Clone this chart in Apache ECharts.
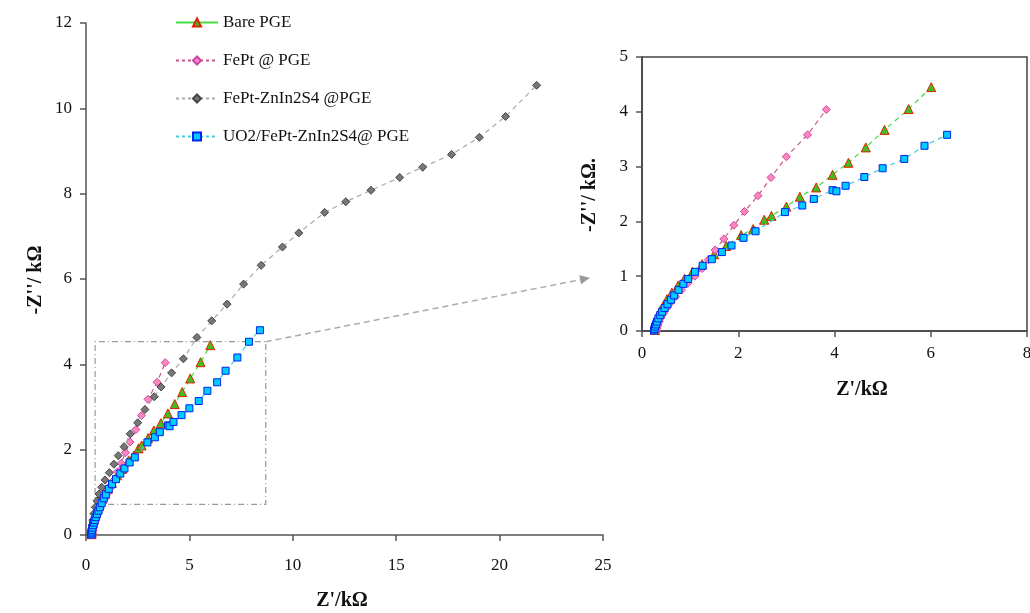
<!DOCTYPE html>
<html><head><meta charset="utf-8">
<script src="https://cdn.jsdelivr.net/npm/echarts@6/dist/echarts.min.js"></script>
<style>html,body{margin:0;padding:0;background:#fff}#c{width:1030px;height:613px}</style>
</head><body><div id="c"></div>
<script>
// ---- data (Z' kΩ, -Z'' kΩ) ----
var seriesNames = ['Bare PGE', 'FePt @ PGE', 'FePt-ZnIn2S4 @PGE', 'UO2/FePt-ZnIn2S4@ PGE'];
var bare = [[0.27,0.02],[0.28,0.06],[0.29,0.12],[0.31,0.2],[0.34,0.28],[0.38,0.37],[0.45,0.47],[0.52,0.58],[0.62,0.7],[0.75,0.83],[0.88,0.95],[1.05,1.08],[1.25,1.22],[1.5,1.4],[1.75,1.55],[2.06,1.75],[2.31,1.86],[2.54,2.03],[2.69,2.10],[3.0,2.27],[3.28,2.45],[3.62,2.62],[3.96,2.85],[4.29,3.07],[4.65,3.35],[5.04,3.67],[5.54,4.05],[6.01,4.45]];
var fept = [[0.3,0.01],[0.31,0.05],[0.33,0.1],[0.36,0.17],[0.4,0.25],[0.45,0.33],[0.52,0.42],[0.6,0.52],[0.7,0.63],[0.82,0.75],[0.95,0.87],[1.1,1.0],[1.25,1.14],[1.38,1.3],[1.52,1.48],[1.70,1.68],[1.91,1.93],[2.13,2.18],[2.41,2.47],[2.68,2.80],[3.0,3.18],[3.44,3.58],[3.83,4.04]];
var feptZn = [[0.27,0.03],[0.28,0.12],[0.3,0.23],[0.33,0.35],[0.38,0.5],[0.45,0.65],[0.53,0.8],[0.63,0.96],[0.76,1.12],[0.92,1.29],[1.13,1.46],[1.35,1.66],[1.56,1.86],[1.84,2.07],[2.14,2.37],[2.50,2.63],[2.85,2.94],[3.30,3.24],[3.63,3.47],[4.14,3.80],[4.71,4.13],[5.36,4.63],[6.08,5.02],[6.82,5.41],[7.62,5.88],[8.47,6.32],[9.50,6.75],[10.29,7.08],[11.54,7.56],[12.56,7.81],[13.78,8.08],[15.17,8.38],[16.28,8.62],[17.68,8.92],[19.02,9.32],[20.29,9.81],[21.79,10.54]];
var uo2 = [[0.25,0.01],[0.26,0.04],[0.27,0.08],[0.29,0.12],[0.31,0.17],[0.34,0.23],[0.38,0.29],[0.42,0.35],[0.47,0.42],[0.53,0.49],[0.60,0.57],[0.67,0.65],[0.76,0.75],[0.86,0.86],[0.96,0.95],[1.10,1.08],[1.26,1.19],[1.45,1.31],[1.66,1.44],[1.86,1.56],[2.11,1.70],[2.36,1.82],[2.97,2.17],[3.33,2.29],[3.57,2.41],[3.96,2.57],[4.04,2.55],[4.23,2.65],[4.62,2.81],[5.00,2.97],[5.45,3.14],[5.87,3.38],[6.34,3.58]];
var uo2Tail = [[6.75,3.85],[7.32,4.16],[7.88,4.53],[8.41,4.80]]; // shown only in the main plot
var mainXTicks = {min:0, max:25, interval:5};
var mainYTicks = {min:0, max:12, interval:2};
var insetXTicks = {min:0, max:8, interval:2};
var insetYTicks = {min:0, max:5, interval:1};
var zoomBox = [[0.44,0.72],[8.69,4.53]];
var arrowEndInset = [-1.08, 0.97];

var FONT = '"Liberation Serif", "Times New Roman", serif';
var styles = [
  {symbol:'triangle', size:9, fill:'#44bb22', border:'#dd2200', line:'#44dd44'},
  {symbol:'diamond', size:8, fill:'#ff88bb', border:'#cc44aa', line:'#cc5588'},
  {symbol:'diamond', size:8, fill:'#777777', border:'#444444', line:'#aaaaaa'},
  {symbol:'rect', size:7, fill:'#00ccff', border:'#0022ee', line:'#44ccdd'}
];
function mk(i, data, xi){
  var s = styles[i];
  return {
    name: seriesNames[i], type:'line', xAxisIndex:xi, yAxisIndex:xi, data:data,
    symbol:s.symbol, symbolSize:s.size, showAllSymbol:true, smooth:false,
    itemStyle:{color:s.fill, borderColor:s.border, borderWidth:1},
    lineStyle:{color:s.line, width:1.2, type:[5,4]},
    emphasis:{disabled:true}, animation:false, z: 3+i
  };
}
function axisCommon(t){
  return {
    type:'value', min:t.min, max:t.max, interval:t.interval,
    splitLine:{show:false},
    axisLine:{show:true, onZero:false, lineStyle:{color:'#555', width:1.5}},
    axisTick:{show:true, inside:false, length:6, lineStyle:{color:'#555', width:1.5}},
    axisLabel:{fontFamily:FONT, fontSize:17, color:'#111'}
  };
}
var xMain = axisCommon(mainXTicks); xMain.gridIndex=0; xMain.axisLabel.margin=22;
var yMain = axisCommon(mainYTicks); yMain.gridIndex=0; yMain.axisLabel.margin=14;
var xIn = axisCommon(insetXTicks); xIn.gridIndex=1; xIn.axisLabel.margin=14;
var yIn = axisCommon(insetYTicks); yIn.gridIndex=1; yIn.axisLabel.margin=14;
xIn.axisLine.lineStyle.color='#444'; yIn.axisLine.lineStyle.color='#444';

var series = [
  mk(0, bare, 0), mk(1, fept, 0), mk(2, feptZn, 0), mk(3, uo2.concat(uo2Tail), 0),
  mk(0, bare, 1), mk(1, fept, 1), mk(3, uo2, 1)
];
series[0].markArea = {
  silent:true,
  itemStyle:{color:'rgba(0,0,0,0)', borderColor:'#999', borderWidth:1.2, borderType:[6,3,1,3]},
  data:[[{coord:zoomBox[0]},{coord:zoomBox[1]}]]
};

var legendData = seriesNames.map(function(n,i){
  return {name:n, lineStyle: i===0 ? {type:'solid'} : {type:[3,3]}};
});

var chart = echarts.init(document.getElementById('c'), null, {renderer:'canvas'});
chart.setOption({
  backgroundColor:'#fff',
  animation:false,
  legend:{
    data:legendData, orient:'vertical', left:170, top:9, itemWidth:42, itemHeight:10, itemGap:21,
    textStyle:{fontFamily:FONT, fontSize:17, color:'#111'}, selectedMode:false
  },
  grid:[
    {left:86, right:427, top:23, bottom:78, outerBoundsMode:'none', containLabel:false},
    {left:642, right:3, top:57, bottom:282, outerBoundsMode:'none', containLabel:false, show:true, borderColor:'#444', borderWidth:1.5, backgroundColor:'rgba(0,0,0,0)'}
  ],
  xAxis:[xMain, xIn],
  yAxis:[yMain, yIn],
  series:series
});

// axis titles and the zoom arrow
var p0 = chart.convertToPixel({gridIndex:0}, [zoomBox[1][0], zoomBox[1][1]]);
var p1 = chart.convertToPixel({gridIndex:1}, arrowEndInset);
var ang = Math.atan2(p1[1]-p0[1], p1[0]-p0[0]);
var ah = 10, aw = 4.5;
var bx = p1[0]-ah*Math.cos(ang), by = p1[1]-ah*Math.sin(ang);
var nx = -Math.sin(ang), ny = Math.cos(ang);
chart.setOption({
  graphic:[
    {type:'line', shape:{x1:p0[0], y1:p0[1], x2:bx, y2:by}, style:{stroke:'#aaa', lineWidth:1.5, lineDash:[6,4]}, silent:true},
    {type:'polygon', shape:{points:[[p1[0],p1[1]],[bx+nx*aw,by+ny*aw],[bx-nx*aw,by-ny*aw]]}, style:{fill:'#999'}, silent:true},
    {type:'text', x:342, y:601, style:{text:"Z'/kΩ", font:'bold 20px '+FONT, fill:'#111', textAlign:'center', textVerticalAlign:'middle'}},
    {type:'text', x:36, y:280, rotation:Math.PI/2, style:{text:"-Z''/ kΩ", font:'bold 20px '+FONT, fill:'#111', textAlign:'center', textVerticalAlign:'middle'}},
    {type:'text', x:862, y:390, style:{text:"Z'/kΩ", font:'bold 20px '+FONT, fill:'#111', textAlign:'center', textVerticalAlign:'middle'}},
    {type:'text', x:590, y:195, rotation:Math.PI/2, style:{text:"-Z''/ kΩ.", font:'bold 20px '+FONT, fill:'#111', textAlign:'center', textVerticalAlign:'middle'}}
  ]
});
</script></body></html>
